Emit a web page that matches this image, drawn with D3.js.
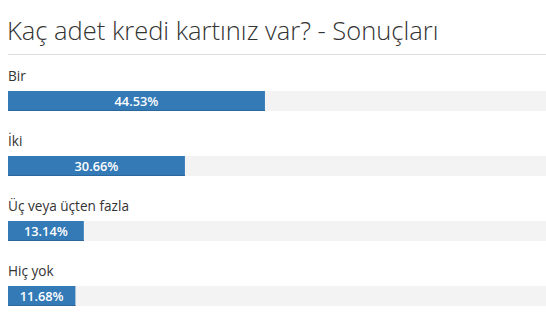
<!DOCTYPE html>
<html><head><meta charset="utf-8">
<script src="https://cdn.jsdelivr.net/npm/d3@7/dist/d3.min.js"></script>
<style>body{margin:0;background:#fff;overflow:hidden}svg{display:block}</style>
</head><body>
<script>
const title = "Kaç adet kredi kartınız var? - Sonuçları";
const categories = ["Bir", "İki", "Üç veya üçten fazla", "Hiç yok"];
const values = [44.53, 30.66, 13.14, 11.68];
const labels = ["44.53%", "30.66%", "13.14%", "11.68%"];

const W = 546, H = 323;
const svg = d3.select("body").append("svg").attr("width", W).attr("height", H);
const font = "'Open Sans', sans-serif";

svg.append("text").attr("x", 7).attr("y", 39.5).text(title)
  .attr("font-family", font).attr("font-size", 25.5).attr("font-weight", 300).attr("fill", "#333");
svg.append("line").attr("x1", 8).attr("x2", W).attr("y1", 54.5).attr("y2", 54.5)
  .attr("stroke", "#ddd").attr("stroke-width", 1);

const x = d3.scaleLinear().domain([0, 100]).range([8, 585]);
const y = d3.scaleBand().domain(categories).range([65, 325]).paddingInner(0).paddingOuter(0);

const g = svg.selectAll("g.row").data(categories).join("g").attr("class", "row")
  .attr("transform", d => `translate(0,${y(d)})`);

g.append("text").attr("x", 8).attr("y", 16).text(d => d)
  .attr("font-family", font).attr("font-size", 13.6).attr("fill", "#333");

g.append("rect").attr("x", x(0)).attr("y", 26).attr("width", x(100) - x(0)).attr("height", 20)
  .attr("fill", "#f3f3f3");
g.append("rect").attr("x", x(0)).attr("y", 26)
  .attr("width", (d, i) => x(values[i]) - x(0)).attr("height", 20).attr("fill", "#337ab7");
g.append("rect").attr("x", x(0)).attr("y", 45)
  .attr("width", (d, i) => x(values[i]) - x(0)).attr("height", 1).attr("fill", "#2b679c");
g.append("text").attr("x", (d, i) => (x(values[i]) + x(0)) / 2).attr("y", 40.5)
  .attr("text-anchor", "middle").text((d, i) => labels[i])
  .attr("font-family", font).attr("font-size", 12.8).attr("font-weight", 600).attr("fill", "#fff");
</script>
</body></html>
